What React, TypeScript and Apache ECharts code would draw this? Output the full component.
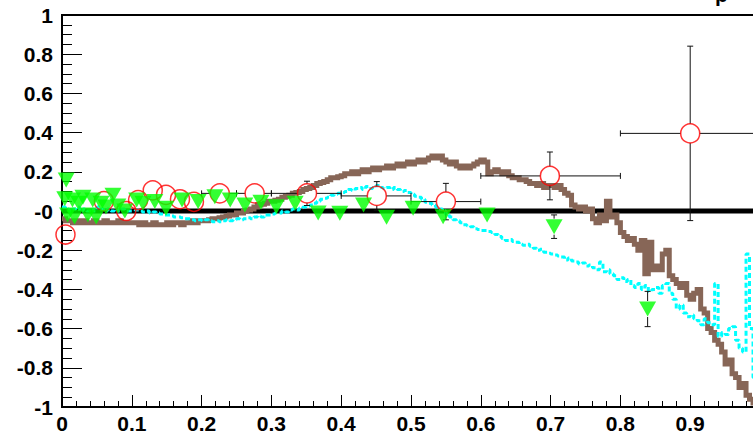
import React, { useEffect, useRef } from "react";
import * as echarts from "echarts";

// Histogram bin width (x) for the two step curves
const BIN_W = 0.005;

// Brown histogram (bin contents, bins of 0.005 from 0 to 1)
const BROWN = [
  -0.04, -0.05, -0.05, -0.06, -0.05, -0.06, -0.05, -0.06, -0.06, -0.05, -0.06, -0.06, -0.05, -0.06, -0.06, -0.06, -0.05, -0.06, -0.06, -0.06,
  -0.06, -0.06, -0.07, -0.06, -0.07, -0.07, -0.06, -0.07, -0.07, -0.07, -0.06, -0.07, -0.06, -0.06, -0.07, -0.06, -0.06, -0.05, -0.06, -0.05,
  -0.05, -0.05, -0.045, -0.04, -0.04, -0.035, -0.03, -0.025, -0.02, -0.02, -0.01, -0.01, 0.0, 0.005, 0.01, 0.02, 0.03, 0.035, 0.04, 0.05,
  0.05, 0.055, 0.06, 0.07, 0.075, 0.08, 0.09, 0.095, 0.1, 0.11, 0.115, 0.12, 0.13, 0.14, 0.145, 0.15, 0.16, 0.17, 0.17, 0.175,
  0.18, 0.19, 0.19, 0.2, 0.19, 0.2, 0.21, 0.2, 0.21, 0.22, 0.21, 0.22, 0.22, 0.23, 0.22, 0.23, 0.24, 0.23, 0.24, 0.25,
  0.24, 0.25, 0.26, 0.25, 0.26, 0.27, 0.28, 0.27, 0.28, 0.26, 0.25, 0.24, 0.25, 0.23, 0.22, 0.23, 0.22, 0.23, 0.24, 0.25,
  0.26, 0.25, 0.19, 0.2, 0.21, 0.2, 0.19, 0.2, 0.18, 0.17, 0.17, 0.16, 0.16, 0.15, 0.14, 0.14, 0.13, 0.14, 0.12, 0.13,
  0.13, 0.12, 0.13, 0.11, 0.09, 0.08, 0.03, 0.02, 0.01, 0.02, 0.0, 0.01, -0.04, -0.06, -0.02, -0.05, 0.05, -0.03, -0.02, -0.06,
  -0.11, -0.13, -0.15, -0.14, -0.17, -0.2, -0.15, -0.32, -0.16, -0.3, -0.28, -0.3, -0.22, -0.2, -0.33, -0.35, -0.37, -0.39, -0.37, -0.43,
  -0.45, -0.42, -0.4, -0.5, -0.52, -0.6, -0.62, -0.66, -0.68, -0.72, -0.78, -0.76, -0.83, -0.85, -0.9, -0.88, -0.94, -0.96, -0.98, -0.99,
];

// Cyan dotted histogram (bin contents, bins of 0.005 from 0 to 1)
const CYAN = [
  0.02, 0.01, 0.0, 0.01, 0.02, 0.0, 0.01, 0.0, 0.01, 0.0, 0.02, 0.01, 0.0, 0.01, 0.0, 0.01, 0.0, 0.01, 0.0, 0.0,
  0.0, 0.005, 0.0, -0.005, 0.0, -0.01, -0.005, -0.01, -0.015, -0.02, -0.02, -0.025, -0.03, -0.03, -0.035, -0.04, -0.04, -0.045, -0.05, -0.045,
  -0.05, -0.045, -0.05, -0.055, -0.05, -0.055, -0.05, -0.045, -0.05, -0.045, -0.04, -0.045, -0.04, -0.035, -0.04, -0.03, -0.025, -0.03, -0.02, -0.02,
  -0.015, -0.01, -0.01, 0.0, -0.005, 0.005, 0.01, 0.005, 0.015, 0.02, 0.025, 0.03, 0.04, 0.05, 0.06, 0.065, 0.07, 0.08, 0.085, 0.09,
  0.095, 0.1, 0.11, 0.105, 0.115, 0.12, 0.11, 0.125, 0.115, 0.12, 0.13, 0.12, 0.115, 0.12, 0.11, 0.12, 0.11, 0.1, 0.105, 0.095,
  0.085, 0.075, 0.07, 0.06, 0.045, 0.04, 0.03, 0.02, 0.01, 0.0, -0.02, -0.03, -0.045, -0.05, -0.06, -0.07, -0.075, -0.08, -0.09, -0.095,
  -0.1, -0.1, -0.105, -0.11, -0.12, -0.13, -0.14, -0.15, -0.145, -0.155, -0.16, -0.17, -0.175, -0.17, -0.18, -0.19, -0.2, -0.195, -0.21, -0.215,
  -0.22, -0.225, -0.23, -0.235, -0.25, -0.24, -0.255, -0.26, -0.27, -0.265, -0.28, -0.275, -0.29, -0.3, -0.26, -0.31, -0.3, -0.32, -0.33, -0.35,
  -0.34, -0.36, -0.35, -0.38, -0.39, -0.37, -0.4, -0.38, -0.41, -0.4, -0.39, -0.42, -0.38, -0.37, -0.42, -0.45, -0.5, -0.48, -0.52, -0.54,
  -0.53, -0.55, -0.56, -0.58, -0.55, -0.57, -0.58, -0.37, -0.64, -0.62, -0.63, -0.6, -0.59, -0.66, -0.7, -0.72, -0.22, -0.6, -0.85, -0.62,
];

// Red open circles: x, y, x low edge, x high edge, y error
const RED_X = [0.005, 0.06, 0.092, 0.109, 0.13, 0.149, 0.169, 0.189, 0.226, 0.276, 0.351, 0.451, 0.55, 0.699, 0.9];
const RED_Y = [-0.12, 0.05, 0.0, 0.056, 0.105, 0.082, 0.06, 0.047, 0.09, 0.09, 0.09, 0.077, 0.048, 0.179, 0.396];
const RED_XLO = [0.0, 0.05, 0.08, 0.1, 0.12, 0.14, 0.16, 0.18, 0.2, 0.25, 0.3, 0.4, 0.5, 0.6, 0.8];
const RED_XHI = [0.01, 0.07, 0.1, 0.12, 0.14, 0.16, 0.18, 0.2, 0.25, 0.3, 0.4, 0.5, 0.6, 0.8, 1.0];
const RED_EY = [0.02, 0.02, 0.02, 0.02, 0.025, 0.025, 0.03, 0.05, 0.03, 0.05, 0.062, 0.073, 0.093, 0.122, 0.445];

// Green full down-triangles: x, y, y error
const GREEN_X = [0.006, 0.004, 0.008, 0.015, 0.018, 0.024, 0.03, 0.037, 0.044, 0.049, 0.056, 0.063, 0.073, 0.08, 0.09, 0.107, 0.116, 0.133, 0.149, 0.172, 0.195, 0.219, 0.241, 0.262, 0.285, 0.307, 0.334, 0.367, 0.398, 0.432, 0.465, 0.503, 0.546, 0.609, 0.705, 0.839];
const GREEN_Y = [0.158, 0.062, -0.02, 0.056, -0.03, 0.04, 0.07, -0.02, 0.056, -0.03, 0.04, 0.02, 0.08, 0.025, 0.0, 0.056, 0.04, 0.048, 0.014, 0.056, 0.048, 0.073, 0.056, 0.03, 0.045, 0.022, 0.04, -0.01, -0.012, 0.03, -0.032, 0.014, -0.029, -0.02, -0.08, -0.5];
const GREEN_EY = [0.01, 0.01, 0.01, 0.01, 0.01, 0.01, 0.01, 0.01, 0.01, 0.01, 0.01, 0.01, 0.01, 0.01, 0.01, 0.01, 0.01, 0.01, 0.01, 0.01, 0.01, 0.01, 0.01, 0.01, 0.01, 0.01, 0.01, 0.01, 0.01, 0.01, 0.01, 0.01, 0.01, 0.015, 0.06, 0.09];

const X_TICK_INTERVAL = 0.1;
const Y_TICK_INTERVAL = 0.2;

const FONT = "'Liberation Sans', Arial, Helvetica, sans-serif";

function histToSteps(vals: number[]) {
  const pts: number[][] = vals.map((v, i) => [i * BIN_W, v]);
  pts.push([vals.length * BIN_W, vals[vals.length - 1]]);
  return pts;
}

function errRender(params: any, api: any) {
  const x = api.value(0);
  const y = api.value(1);
  const xlo = api.value(2);
  const xhi = api.value(3);
  const ylo = api.value(4);
  const yhi = api.value(5);
  const r = api.value(6);
  const c = api.coord([x, y]);
  const pl = api.coord([xlo, y])[0];
  const ph = api.coord([xhi, y])[0];
  const pt = api.coord([x, yhi])[1];
  const pb = api.coord([x, ylo])[1];
  const cap = 3;
  const st = { stroke: "#111", lineWidth: 1 };
  const ch: any[] = [];
  const ln = (x1: number, y1: number, x2: number, y2: number) =>
    ch.push({ type: "line", shape: { x1, y1, x2, y2 }, style: st });
  if (pt < c[1] - r - 1) {
    ln(c[0], c[1] - r, c[0], pt);
    ln(c[0] - cap, pt, c[0] + cap, pt);
  }
  if (pb > c[1] + r + 1) {
    ln(c[0], c[1] + r, c[0], pb);
    ln(c[0] - cap, pb, c[0] + cap, pb);
  }
  if (pl < c[0] - r - 1) {
    ln(c[0] - r, c[1], pl, c[1]);
    ln(pl, c[1] - cap, pl, c[1] + cap);
  }
  if (ph > c[0] + r + 1) {
    ln(c[0] + r, c[1], ph, c[1]);
    ln(ph, c[1] - cap, ph, c[1] + cap);
  }
  return { type: "group", children: ch };
}

export default function App() {
  const ref = useRef<HTMLDivElement>(null);
  useEffect(() => {
    if (!ref.current) return;
    const chart = echarts.init(ref.current, undefined, { renderer: "svg" });

    const redErr = RED_X.map((x, i) => [x, RED_Y[i], RED_XLO[i], RED_XHI[i], RED_Y[i] - RED_EY[i], RED_Y[i] + RED_EY[i], 9.5]);
    const greenErr = GREEN_X.map((x, i) => [x, GREEN_Y[i], x, x, GREEN_Y[i] - GREEN_EY[i], GREEN_Y[i] + GREEN_EY[i], 8]);

    const labelStyle = {
      fontFamily: FONT,
      fontWeight: "bold" as const,
      fontSize: 21,
      color: "#000",
    };

    chart.setOption({
      animation: false,
      backgroundColor: "#fff",
      grid: {
        left: 62,
        top: 15,
        bottom: 25,
        right: -7,
        containLabel: false,
        outerBoundsMode: "none",
        show: true,
        borderColor: "#000",
        borderWidth: 2,
        backgroundColor: "transparent",
      },
      graphic: [
        {
          type: "text",
          x: 715,
          y: -6,
          style: {
            text: "p",
            fill: "#000",
            fontFamily: FONT,
            fontWeight: "bold",
            fontSize: 21,
            verticalAlign: "middle",
          },
        },
      ],
      xAxis: {
        type: "value",
        min: 0,
        max: 1,
        interval: X_TICK_INTERVAL,
        axisLine: { onZero: false, lineStyle: { color: "#000", width: 2 } },
        axisTick: { inside: true, length: 12, lineStyle: { color: "#000", width: 1 } },
        minorTick: { show: true, splitNumber: 5, length: 6, lineStyle: { color: "#000", width: 1 } },
        splitLine: { show: false },
        minorSplitLine: { show: false },
        axisLabel: {
          ...labelStyle,
          margin: 6,
          formatter: (v: number) => String(Math.round(v * 10) / 10),
        },
      },
      yAxis: {
        type: "value",
        min: -1,
        max: 1,
        interval: Y_TICK_INTERVAL,
        axisLine: { onZero: false, lineStyle: { color: "#000", width: 2 } },
        axisTick: { inside: true, length: 20, lineStyle: { color: "#000", width: 1 } },
        minorTick: { show: true, splitNumber: 4, length: 10, lineStyle: { color: "#000", width: 1 } },
        splitLine: { show: false },
        minorSplitLine: { show: false },
        axisLabel: {
          ...labelStyle,
          margin: 9,
          formatter: (v: number) => {
            const r = Math.round(v * 10) / 10;
            return r === 0 ? "-0" : String(r);
          },
        },
      },
      series: [
        {
          name: "zero",
          type: "line",
          data: [[0, 0], [1, 0]],
          symbol: "none",
          lineStyle: { color: "#000", width: 5 },
          z: 1,
          silent: true,
        },
        {
          name: "brown",
          type: "line",
          step: "end",
          data: histToSteps(BROWN),
          symbol: "none",
          lineStyle: { color: "#876657", width: 5, cap: "butt", join: "miter" },
          z: 2,
        },
        {
          name: "cyan",
          type: "line",
          step: "end",
          data: histToSteps(CYAN),
          symbol: "none",
          lineStyle: { color: "#00ffff", width: 3, type: [5, 3] },
          z: 3,
        },
        {
          name: "redErr",
          type: "custom",
          renderItem: errRender,
          data: redErr,
          encode: { x: 0, y: 1 },
          z: 4,
          silent: true,
        },
        {
          name: "greenErr",
          type: "custom",
          renderItem: errRender,
          data: greenErr,
          encode: { x: 0, y: 1 },
          z: 4,
          silent: true,
        },
        {
          name: "red",
          type: "scatter",
          data: RED_X.map((x, i) => [x, RED_Y[i]]),
          symbol: "circle",
          symbolSize: 19,
          itemStyle: { color: "rgba(255,255,255,0)", borderColor: "#ff0000", borderWidth: 1.5 },
          z: 5,
        },
        {
          name: "green",
          type: "scatter",
          data: GREEN_X.map((x, i) => [x, GREEN_Y[i]]),
          symbol: "triangle",
          symbolRotate: 180,
          symbolSize: [17, 15],
          itemStyle: { color: "#00ff00" },
          z: 6,
        },
      ],
    });
    return () => chart.dispose();
  }, []);
  return (
    <div
      ref={ref}
      style={{ position: "absolute", left: 0, top: 0, width: 753, height: 432 }}
    />
  );
}
